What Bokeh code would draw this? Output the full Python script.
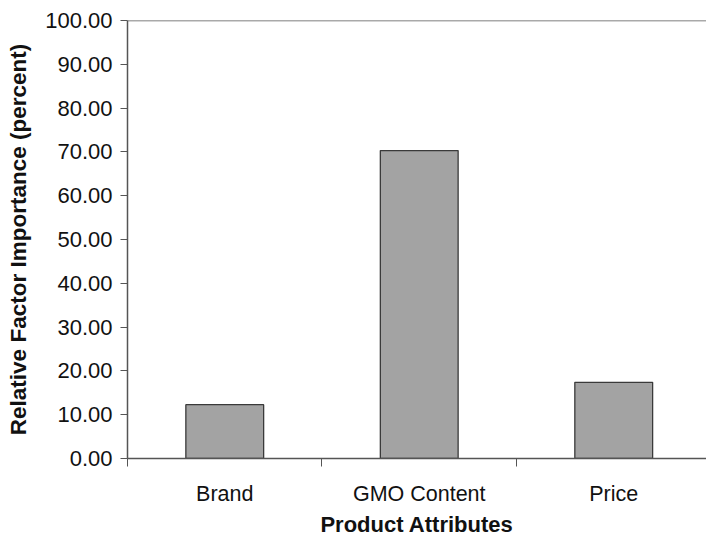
from bokeh.plotting import figure
from bokeh.models import FixedTicker, Span, Range1d, ColumnDataSource
from bokeh.embed import file_html
from bokeh.resources import INLINE

categories = ["Brand", "GMO Content", "Price"]
values = [12.3, 70.3, 17.4]
y_ticks = [0, 10, 20, 30, 40, 50, 60, 70, 80, 90, 100]

positions = [i + 0.5 for i in range(len(categories))]
src = ColumnDataSource(dict(x=positions, top=values))

p = figure(frame_width=579, frame_height=438, output_backend="svg", toolbar_location=None,
           x_range=Range1d(0, 2.977), y_range=Range1d(0, 100),
           min_border_left=127, min_border_top=20, min_border_right=0, min_border_bottom=0)

p.vbar(x="x", top="top", width=0.40, bottom=0, source=src,
       fill_color="#a3a3a3", line_color="#3a3a3a", line_width=1.3)

p.grid.visible = False
p.outline_line_color = None
p.background_fill_color = "white"
p.border_fill_color = "white"
p.add_layout(Span(location=100, dimension="width", line_color="#555555", line_width=1.5))

font = "Liberation Sans"

xa = p.xaxis[0]
xa.ticker = FixedTicker(ticks=positions, minor_ticks=[0, 1, 2, 3])
xa.major_label_overrides = {pos: c for pos, c in zip(positions, categories)}
xa.major_tick_out = 0
xa.major_tick_in = 0
xa.minor_tick_out = 8
xa.minor_tick_in = 0
xa.minor_tick_line_color = "#555555"
xa.axis_line_color = "#555555"
xa.axis_line_width = 1.5
xa.major_label_text_font = font
xa.major_label_text_font_size = "21.5px"
xa.major_label_text_color = "#111111"
xa.major_label_standoff = 15
xa.axis_label = "Product Attributes"
xa.axis_label_text_font = font
xa.axis_label_text_font_size = "22px"
xa.axis_label_text_font_style = "bold"
xa.axis_label_text_color = "#111111"
xa.axis_label_standoff = 3

ya = p.yaxis[0]
ya.ticker = FixedTicker(ticks=y_ticks, minor_ticks=[])
ya.major_label_overrides = {t: f"{t:.2f}" for t in y_ticks}
ya.major_tick_out = 7
ya.major_tick_in = 0
ya.major_tick_line_color = "#555555"
ya.axis_line_color = "#555555"
ya.axis_line_width = 1.5
ya.major_label_text_font = font
ya.major_label_text_font_size = "22px"
ya.major_label_text_color = "#111111"
ya.major_label_standoff = 8
ya.axis_label = "Relative Factor Importance (percent)"
ya.axis_label_text_font = font
ya.axis_label_text_font_size = "22.5px"
ya.axis_label_text_font_style = "bold"
ya.axis_label_text_color = "#111111"
ya.axis_label_standoff = 11

open("out.html", "w").write(file_html(p, INLINE))
